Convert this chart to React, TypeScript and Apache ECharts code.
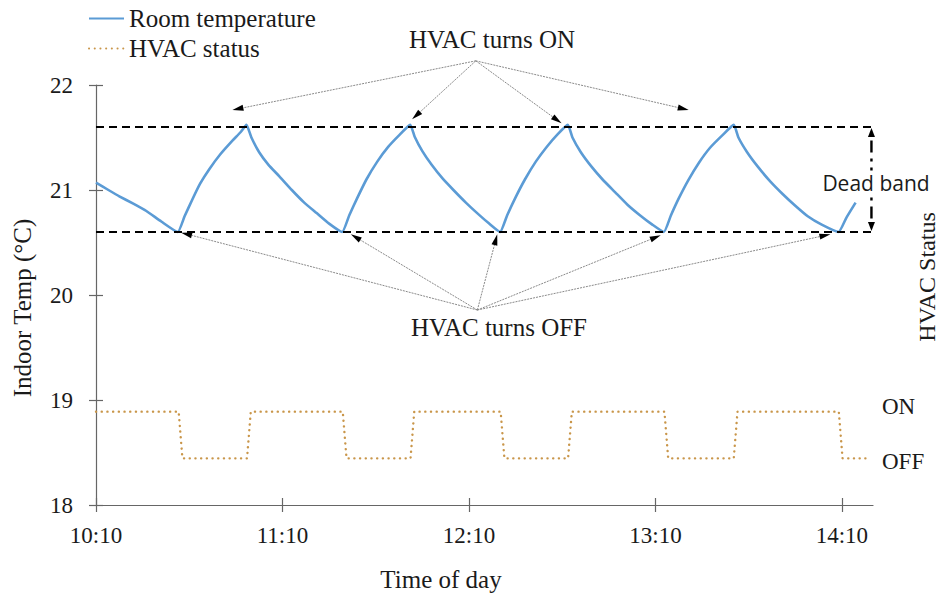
import React, { useEffect, useRef } from "react";
import * as echarts from "echarts";

// minutes after 10:10
const tempTimes = [
  0, 4, 7.5, 12, 16.2, 21, 26.3,
  28.5, 31, 33.5, 36.5, 40, 43.9, 46.5, 48.4,
  50, 52.5, 55.5, 59, 63, 67, 71, 75, 79.2,
  81.5, 84, 87, 90.5, 94, 97.5, 101.1,
  102.5, 105, 108, 111.5, 115, 119, 123, 126.5, 130,
  132.3, 135, 138, 141.5, 145, 148.5, 151.8,
  153.3, 156, 159.5, 163, 167, 171, 175, 179, 182.7,
  185, 187.5, 190.5, 194, 197.5, 201.5, 205.2,
  206.7, 209.5, 213, 217, 221, 225, 229, 233.5, 238.9,
  241.5, 244.4,
];
const tempValues = [
  21.07, 21.0, 20.94, 20.87, 20.8, 20.7, 20.6,
  20.75, 20.91, 21.06, 21.2, 21.34, 21.47, 21.55, 21.62,
  21.5, 21.36, 21.24, 21.13, 21.0, 20.88, 20.78, 20.68, 20.6,
  20.76, 20.92, 21.1, 21.27, 21.41, 21.52, 21.62,
  21.51, 21.37, 21.24, 21.11, 21.0, 20.88, 20.77, 20.68, 20.6,
  20.76, 20.93, 21.1, 21.27, 21.41, 21.53, 21.62,
  21.5, 21.36, 21.22, 21.1, 20.98, 20.86, 20.76, 20.67, 20.6,
  20.76, 20.92, 21.09, 21.26, 21.4, 21.52, 21.62,
  21.5, 21.36, 21.22, 21.08, 20.96, 20.85, 20.75, 20.67, 20.6,
  20.74, 20.88,
];

const statusTimes = [
  0, 26.6, 27.8, 48.6, 49.8, 79.4, 80.6, 101.2, 102.4, 130.2, 131.4,
  151.9, 153.1, 182.9, 184.1, 205.2, 206.4, 239.0, 240.2, 248,
];
const statusValues = [1, 1, 0, 0, 1, 1, 0, 0, 1, 1, 0, 0, 1, 1, 0, 0, 1, 1, 0, 0];

const xTickValues = [0, 60, 120, 180, 240];
const xTickLabels = ["10:10", "11:10", "12:10", "13:10", "14:10"];
const statusTickValues = [0, 1];
const statusTickLabels = ["OFF", "ON"];

const deadBandUpper = 21.6;
const deadBandLower = 20.6;

const onArrowOrigin = [122.2, 22.23];
const onArrowTips = [
  [43.9, 21.762],
  [101.7, 21.673],
  [149.8, 21.635],
  [190.7, 21.762],
];
const offArrowOrigin = [122.7, 19.857];
const offArrowTips = [
  [27.4, 20.594],
  [82.0, 20.578],
  [129.1, 20.578],
  [181.7, 20.569],
  [236.3, 20.578],
];
const deadBandX = 249.5;

const SERIF = "'Liberation Serif', 'Times New Roman', serif";
const TEXT = "#1a1a1a";
const AXIS = "#666666";
const BLUE = "#5B9BD5";
const GOLD = "#C9964A";

export default function App() {
  const ref = useRef<HTMLDivElement>(null);

  useEffect(() => {
    if (!ref.current) return;
    const chart = echarts.init(ref.current, null, { renderer: "svg" });

    const tempData = tempTimes.map((t, i) => [t, tempValues[i]]);
    const statusData = statusTimes.map((t, i) => [t, statusValues[i]]);

    chart.setOption({
      animation: false,
      backgroundColor: "#ffffff",
      legend: {
        orient: "vertical",
        left: 88,
        top: 6,
        padding: 0,
        itemWidth: 35,
        itemHeight: 14,
        itemGap: 5,
        itemStyle: { color: "rgba(0,0,0,0)", borderWidth: 0, opacity: 0 },
        textStyle: { fontFamily: SERIF, fontSize: 25, color: TEXT },
        data: ["Room temperature", "HVAC status"],
      },
      grid: { left: 96, right: 69, top: 85, bottom: 90, containLabel: false },
      xAxis: [
        {
          type: "value",
          min: 0,
          max: 250,
          interval: 60,
          position: "bottom",
          axisLine: { show: true, onZero: false, lineStyle: { color: AXIS, width: 1.2 } },
          axisTick: {
            show: true,
            inside: false,
            length: 7,
            customValues: xTickValues,
            lineStyle: { color: AXIS, width: 1.2 },
          },
          axisLabel: {
            customValues: xTickValues,
            formatter: (v: number) => {
              const i = xTickValues.indexOf(v);
              return i >= 0 ? xTickLabels[i] : "";
            },
            margin: 19,
            fontFamily: SERIF,
            fontSize: 23,
            color: TEXT,
          },
          splitLine: { show: false },
        },
        {
          type: "value",
          min: 0,
          max: 250,
          interval: 60,
          position: "bottom",
          axisLine: { show: false, onZero: false },
          axisTick: {
            show: true,
            inside: true,
            length: 7,
            customValues: xTickValues,
            lineStyle: { color: AXIS, width: 1.2 },
          },
          axisLabel: { show: false },
          splitLine: { show: false },
        },
      ],
      yAxis: [
        {
          type: "value",
          min: 18,
          max: 22,
          interval: 1,
          position: "left",
          axisLine: { show: true, onZero: false, lineStyle: { color: AXIS, width: 1.2 } },
          axisTick: { show: true, inside: false, length: 7, lineStyle: { color: AXIS, width: 1.2 } },
          axisLabel: { margin: 23, fontFamily: SERIF, fontSize: 23, color: TEXT },
          splitLine: { show: false },
        },
        {
          type: "value",
          min: -1,
          max: 8,
          position: "right",
          axisLine: { show: false, onZero: false },
          axisTick: { show: false },
          axisLabel: {
            customValues: statusTickValues,
            margin: 9,
            formatter: (v: number) => {
              const i = statusTickValues.indexOf(v);
              if (i < 0) return "";
              return v === 1 ? "{on|" + statusTickLabels[i] + "}" : "{off|" + statusTickLabels[i] + "}";
            },
            rich: {
              on: { fontFamily: SERIF, fontSize: 23, color: TEXT, padding: [0, 0, 10, 0] },
              off: { fontFamily: SERIF, fontSize: 23, color: TEXT, padding: [6, 0, 0, 0] },
            },
          },
          splitLine: { show: false },
        },
        {
          type: "value",
          min: 18,
          max: 22,
          interval: 1,
          position: "left",
          axisLine: { show: false, onZero: false },
          axisTick: { show: true, inside: true, length: 7, lineStyle: { color: AXIS, width: 1.2 } },
          axisLabel: { show: false },
          splitLine: { show: false },
        },
      ],
      series: [
        {
          name: "Room temperature",
          type: "line",
          xAxisIndex: 0,
          yAxisIndex: 0,
          data: tempData,
          symbol: "none",
          smooth: 0.15,
          lineStyle: { color: BLUE, width: 2.6, join: "round" },
          itemStyle: { color: BLUE },
          z: 3,
          markLine: {
            silent: true,
            symbol: ["none", "none"],
            label: { show: false },
            lineStyle: { color: "#000000", type: [8, 5], width: 2 },
            data: [{ yAxis: deadBandUpper }, { yAxis: deadBandLower }],
          },
        },
        {
          name: "HVAC status",
          type: "line",
          xAxisIndex: 0,
          yAxisIndex: 1,
          data: statusData,
          symbol: "none",
          lineStyle: { color: GOLD, width: 2.4, type: [0.1, 5.6], cap: "round" },
          itemStyle: { color: GOLD },
          z: 3,
        },
      ],
    });

    const px = (p: number[]) =>
      chart.convertToPixel({ xAxisIndex: 0, yAxisIndex: 0 }, p) as number[];

    const arrow = (from: number[], to: number[], color: string, width: number, dash: number[] | null, headL: number, headW: number) => {
      const dx = to[0] - from[0];
      const dy = to[1] - from[1];
      const len = Math.sqrt(dx * dx + dy * dy) || 1;
      const ux = dx / len;
      const uy = dy / len;
      const bx = to[0] - ux * headL;
      const by = to[1] - uy * headL;
      return [
        {
          type: "line",
          shape: { x1: from[0], y1: from[1], x2: bx, y2: by },
          style: { stroke: color, lineWidth: width, lineDash: dash || undefined },
          silent: true,
        },
        {
          type: "polygon",
          shape: {
            points: [
              [to[0], to[1]],
              [bx - uy * headW / 2, by + ux * headW / 2],
              [bx + uy * headW / 2, by - ux * headW / 2],
            ],
          },
          style: { fill: "#000000" },
          silent: true,
        },
      ];
    };

    const graphics: any[] = [];
    const onO = px(onArrowOrigin);
    onArrowTips.forEach((t) => graphics.push(...arrow(onO, px(t), "#8a8a8a", 1, [2, 1], 11, 6)));
    const offO = px(offArrowOrigin);
    offArrowTips.forEach((t) => graphics.push(...arrow(offO, px(t), "#8a8a8a", 1, [2, 1], 11, 6)));

    // dead band double arrow
    const dbTop = px([deadBandX, deadBandUpper]);
    const dbBot = px([deadBandX, deadBandLower]);
    const mid = [(dbTop[0] + dbBot[0]) / 2, (dbTop[1] + dbBot[1]) / 2];
    graphics.push(...arrow(mid, [dbTop[0], dbTop[1] + 1], "#000", 2.4, [12, 6, 3, 6], 9, 7));
    graphics.push(...arrow(mid, [dbBot[0], dbBot[1] - 1], "#000", 2.4, [12, 6, 3, 6], 9, 7));

    const txt = (text: string, x: number, y: number, font: string, rotation = 0, extra: any = {}) => ({
      type: "text",
      x,
      y,
      rotation,
      z: 10,
      style: { text, font, fill: TEXT, align: "center", verticalAlign: "middle", ...extra },
    });

    graphics.push(
      txt("Dead band", 876, 183, "21px 'Open Sans', 'Noto Sans', sans-serif", 0, {
        backgroundColor: "#ffffff",
        padding: [2, 0, 2, 0],
      })
    );
    graphics.push(txt("HVAC turns ON", 492, 39, "25px " + SERIF));
    graphics.push(txt("HVAC turns OFF", 499, 327, "25px " + SERIF));
    graphics.push(txt("Time of day", 441, 579, "25px " + SERIF));
    graphics.push(txt("Indoor Temp (\u00B0C)", 22, 308, "25px " + SERIF, Math.PI / 2));
    graphics.push(txt("HVAC Status", 927, 277, "24px " + SERIF, Math.PI / 2));

    chart.setOption({ graphic: graphics });

    return () => chart.dispose();
  }, []);

  return <div ref={ref} style={{ width: 942, height: 595, position: "absolute", left: 0, top: 0 }} />;
}
